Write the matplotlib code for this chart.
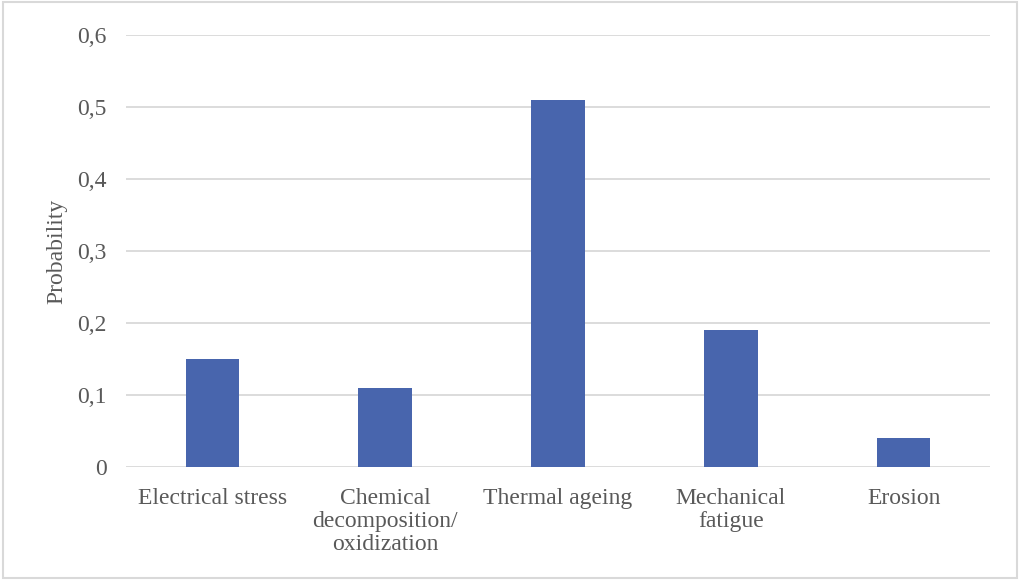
import matplotlib
matplotlib.use("Agg")
import matplotlib.pyplot as plt
from matplotlib.patches import Rectangle
from matplotlib.ticker import FuncFormatter

# Failure mechanism probabilities
categories = ["Electrical stress", "Chemical\ndecomposition/\noxidization",
              "Thermal ageing", "Mechanical\nfatigue", "Erosion"]
probability = [0.15, 0.11, 0.51, 0.19, 0.04]
yticks = [0, 0.1, 0.2, 0.3, 0.4, 0.5, 0.6]

plt.rcParams['font.family'] = ['Liberation Serif', 'DejaVu Serif']
text_col = "#595959"
grid_col = "#d9d9d9"

fig = plt.figure(figsize=(10.2, 5.8), dpi=100)
ax = fig.add_axes([0.1235, 0.1948, 0.8471, 0.7449])

x = range(len(categories))
ax.bar(x, probability, width=0.31, color="#4865ad", zorder=3)

ax.set_xlim(-0.5, len(categories) - 0.5)
ax.set_ylim(0, 0.6)
ax.set_yticks(yticks)
ax.yaxis.set_major_formatter(FuncFormatter(lambda v, p: "0" if v == 0 else f"{v:.1f}".replace(".", ",")))
ax.set_xticks(list(x))
ax.set_xticklabels(categories, linespacing=1.13)
ax.tick_params(axis="both", length=0, labelsize=17, colors=text_col)
ax.tick_params(axis="y", pad=14)
ax.tick_params(axis="x", pad=15)
ax.grid(axis="y", color=grid_col, linewidth=1.3, zorder=0)
for s in ax.spines.values():
    s.set_visible(False)
ax.set_ylabel("Probability", fontsize=17, color=text_col, labelpad=7)

# light frame around the chart
fig.patches.append(Rectangle((0.003, 0.004), 0.994, 0.992, transform=fig.transFigure,
                             fill=False, edgecolor=grid_col, linewidth=1.5))

fig.savefig("out.png", dpi=100)
